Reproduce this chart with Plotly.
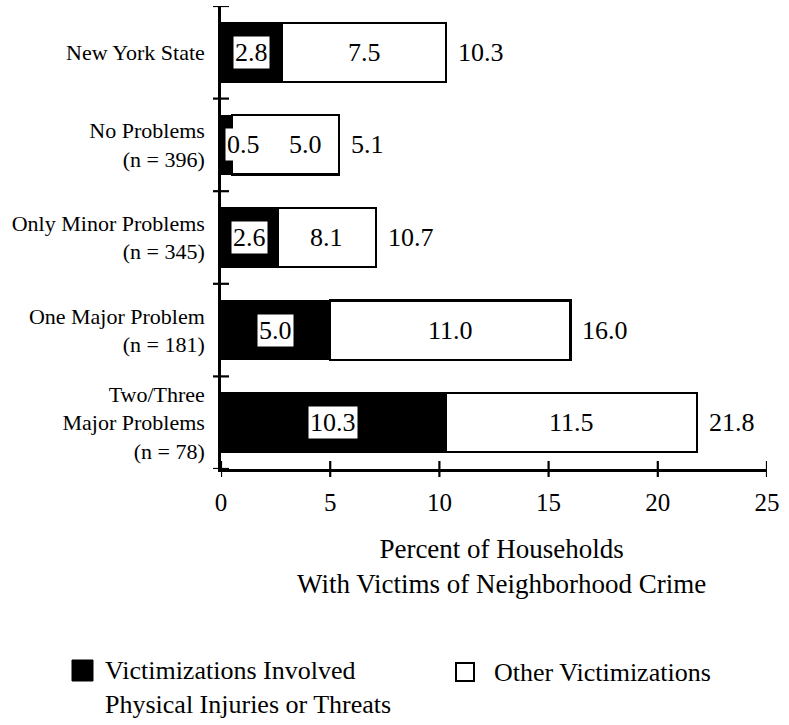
import plotly.graph_objects as go

# ---------------- data ----------------
categories = [
    "New York State",
    "No Problems<br>(n = 396)",
    "Only Minor Problems<br>(n = 345)",
    "One Major Problem<br>(n = 181)",
    "Two/Three<br>Major Problems<br>(n = 78)",
]
# drawn bar segment lengths (percent of households)
injury_pct = [2.8, 0.5, 2.6, 5.0, 10.3]
other_pct = [7.5, 4.9, 4.5, 11.0, 11.5]
# values printed on the chart
injury_labels = ["2.8", "0.5", "2.6", "5.0", "10.3"]
other_labels = ["7.5", "5.0", "8.1", "11.0", "11.5"]
total_labels = ["10.3", "5.1", "10.7", "16.0", "21.8"]
x_ticks = [0, 5, 10, 15, 20, 25]
x_title = "Percent of Households<br>With Victims of Neighborhood Crime"
legend_injury = "Victimizations Involved<br>Physical Injuries or Threats"
legend_other = "Other Victimizations"

FONT = "Liberation Serif, Times New Roman, serif"
W, H = 789, 725
ML, MR, MT, MB = 221, 22, 6, 256
PW = W - ML - MR
PH = H - MT - MB


def px_x(p):
    return (p - ML) / PW


def px_y(p):
    return (H - MB - p) / PH


ypos = list(range(len(categories)))

fig = go.Figure()
fig.add_trace(go.Bar(
    y=ypos, x=injury_pct, orientation="h", width=0.64,
    marker=dict(color="black", line=dict(color="black", width=1.5)),
    showlegend=False, hoverinfo="skip",
))
fig.add_trace(go.Bar(
    y=ypos, x=other_pct, orientation="h", width=0.64,
    marker=dict(color="white", line=dict(color="black", width=2.2)),
    showlegend=False, hoverinfo="skip",
))

annotations = []
for i in ypos:
    inj, oth = injury_pct[i], other_pct[i]
    # label inside the black segment (white box)
    if inj < 1:
        annotations.append(dict(x=0, y=i, xref="x", yref="y", text=injury_labels[i],
                                showarrow=False, xanchor="left", xshift=4,
                                bgcolor="white", borderpad=1,
                                font=dict(family=FONT, size=26, color="black")))
    else:
        annotations.append(dict(x=inj / 2, y=i, xref="x", yref="y", text=injury_labels[i],
                                showarrow=False, xanchor="center",
                                bgcolor="white", borderpad=1,
                                font=dict(family=FONT, size=26, color="black")))
    # label in the white segment
    annotations.append(dict(x=inj + oth / 2 + (0.9 if inj < 1 else 0), y=i, xref="x", yref="y",
                            text=other_labels[i], showarrow=False,
                            font=dict(family=FONT, size=26, color="black")))
    # total at the bar end
    annotations.append(dict(x=inj + oth, y=i, xref="x", yref="y", text=total_labels[i],
                            showarrow=False, xanchor="left", xshift=10,
                            font=dict(family=FONT, size=26, color="black")))

# axis title (two lines)
annotations.append(dict(x=px_x(501), y=px_y(566), xref="paper", yref="paper",
                        text=x_title, showarrow=False, xanchor="center", yanchor="middle",
                        font=dict(family=FONT, size=27, color="black")))

# legend text
annotations.append(dict(x=px_x(103), y=px_y(687), xref="paper", yref="paper",
                        text=legend_injury, showarrow=False, xanchor="left", yanchor="middle",
                        align="left",
                        font=dict(family=FONT, size=26, color="black")))
annotations.append(dict(x=px_x(492), y=px_y(672), xref="paper", yref="paper",
                        text=legend_other, showarrow=False, xanchor="left", yanchor="middle",
                        font=dict(family=FONT, size=26, color="black")))

shapes = []
# x-axis ticks crossing the axis line
for v in x_ticks:
    shapes.append(dict(type="line", xref="x", yref="paper", x0=v, x1=v,
                       ysizemode="pixel", yanchor=0, y0=-8, y1=8,
                       line=dict(color="black", width=2.2)))
# y-axis ticks at category boundaries, crossing the axis line
for b in [k - 0.5 for k in range(len(categories) + 1)]:
    shapes.append(dict(type="line", xref="paper", yref="y", y0=b, y1=b,
                       xsizemode="pixel", xanchor=0, x0=-8, x1=8,
                       line=dict(color="black", width=2.2)))
# legend swatches
shapes.append(dict(type="rect", xref="paper", yref="paper",
                   x0=px_x(72), x1=px_x(93), y0=px_y(681), y1=px_y(660),
                   fillcolor="black", line=dict(color="black", width=1)))
shapes.append(dict(type="rect", xref="paper", yref="paper",
                   x0=px_x(456), x1=px_x(474), y0=px_y(681), y1=px_y(663),
                   fillcolor="white", line=dict(color="black", width=2)))

fig.update_layout(
    width=W, height=H,
    margin=dict(l=ML, r=MR, t=MT, b=MB),
    barmode="stack",
    paper_bgcolor="white", plot_bgcolor="white",
    font=dict(family=FONT, color="black"),
    xaxis=dict(range=[0, 25], tickvals=x_ticks, ticks="", showgrid=False, zeroline=False,
               showline=True, linecolor="black", linewidth=2.5, automargin=False,
               tickfont=dict(family=FONT, size=25, color="black"),
               ticklabelstandoff=9, fixedrange=True),
    yaxis=dict(range=[len(categories) - 0.5, -0.5], tickvals=ypos, ticktext=categories,
               ticks="", showgrid=False, zeroline=False, automargin=False,
               showline=True, linecolor="black", linewidth=2.5,
               tickfont=dict(family=FONT, size=22, color="black"),
               ticklabelstandoff=9, fixedrange=True),
    annotations=annotations,
    shapes=shapes,
    showlegend=False,
)

fig.write_html("out.html", config={"displayModeBar": False},
               post_script="document.body.style.margin='0';")
